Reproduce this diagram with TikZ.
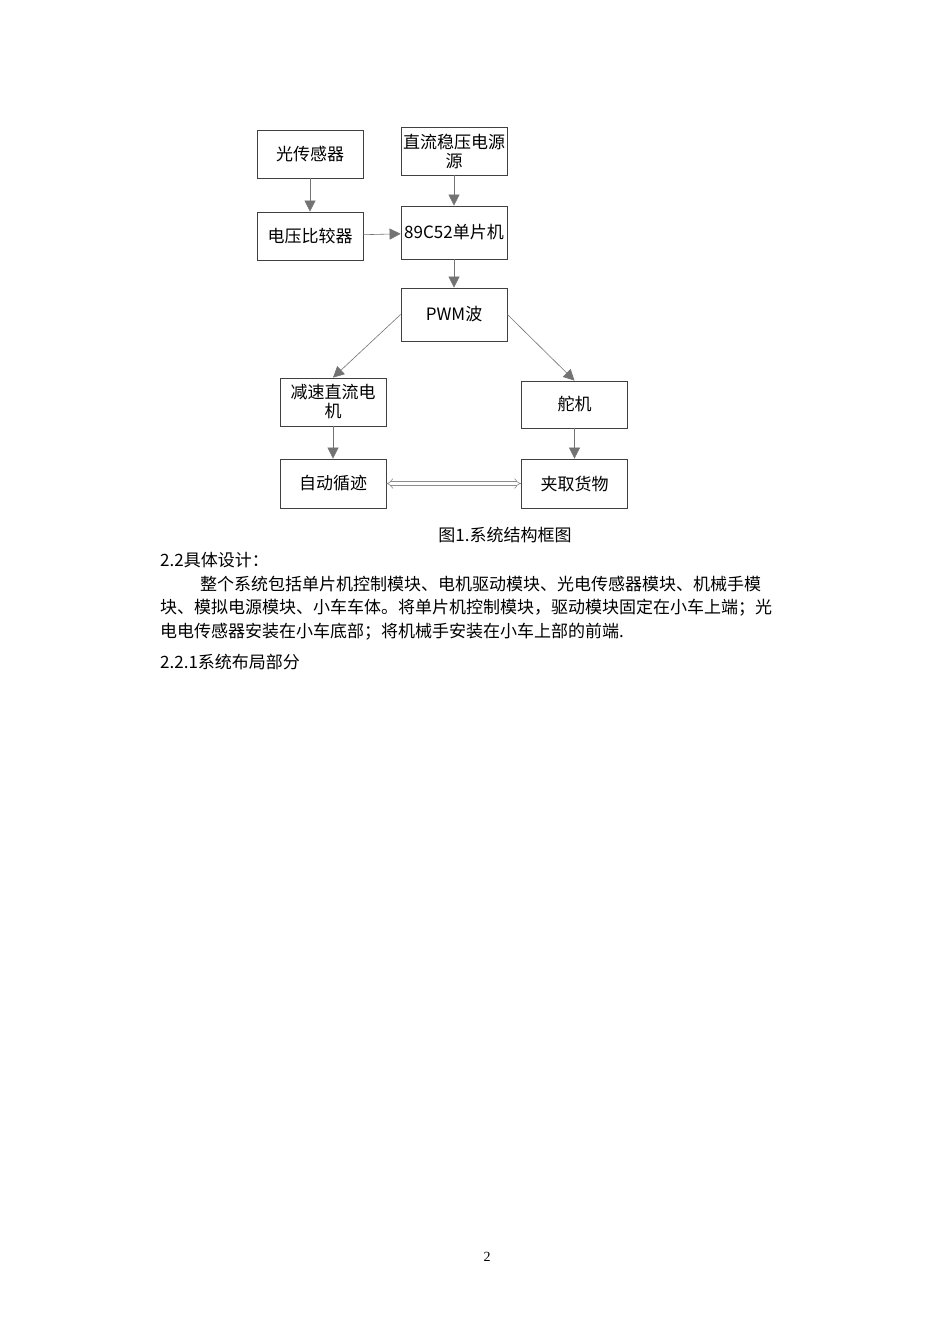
\documentclass[tikz,border=0pt]{standalone}
\usepackage{fontspec}
\setmainfont{Liberation Serif}
\newfontfamily\cjk{Noto Sans CJK SC}
\usetikzlibrary{arrows.meta}
\begin{document}
\begin{tikzpicture}[x=1pt,y=-1pt,
  blk/.style={draw=black!75,line width=0.8pt,minimum width=106pt,inner sep=0pt,align=center,font=\cjk\fontsize{17}{21}\selectfont},
  arr/.style={draw=black!55,line width=0.6pt,-{Triangle[length=11pt,width=11pt]}},
  txt/.style={anchor=west,inner sep=0pt,font=\cjk\fontsize{17}{20}\selectfont}]
\useasboundingbox[fill=white] (0,0) rectangle (950,1344);
\node[blk,minimum height=48pt] (gcq) at (310,154) {光传感器};
\node[blk,minimum height=48pt] (dy) at (454,151) {直流稳压电源\\[-2pt]源};
\node[blk,minimum height=48pt] (bjq) at (310,236) {电压比较器};
\node[blk,minimum height=53pt] (mcu) at (454,232.5) {89C52单片机};
\node[blk,minimum height=53pt] (pwm) at (454,314.5) {PWM波};
\node[blk,minimum height=48pt] (dj) at (333,402) {减速直流电\\[-2pt]机};
\node[blk,minimum height=47pt] (duo) at (574.5,404.5) {舵机};
\node[blk,minimum height=49pt] (xj) at (333,483.5) {自动循迹};
\node[blk,minimum height=49pt] (jq) at (574.5,483.5) {夹取货物};
\draw[arr] (gcq) -- (bjq);
\draw[arr] (dy) -- (mcu);
\draw[arr] (bjq) -- (mcu);
\draw[arr] (mcu) -- (pwm);
\draw[arr] (pwm.west) -- (dj.north);
\draw[arr] (pwm.east) -- (duo.north);
\draw[arr] (dj) -- (xj);
\draw[arr] (duo) -- (jq);
\draw[draw=black!45,fill=green!8!gray!25,line width=0.6pt,double distance=3pt,{Implies[]}-{Implies[]}] (xj.east) -- (jq.west);
\node[inner sep=0pt,font=\cjk\fontsize{17}{20}\selectfont] (cap) at (505,535) {图1.系统结构框图};
\node[txt] (l1) at (160,560) {2.2具体设计：};
\node[txt] (l2) at (200,584) {整个系统包括单片机控制模块、电机驱动模块、光电传感器模块、机械手模};
\node[txt] (l3) at (160,608) {块、模拟电源模块、小车车体。将单片机控制模块，驱动模块固定在小车上端；光};
\node[txt] (l4) at (160,632) {电电传感器安装在小车底部；将机械手安装在小车上部的前端.};
\node[txt] (l5) at (160,662) {2.2.1系统布局部分};
\node[inner sep=0pt,font=\fontsize{14}{16}\selectfont] (pg) at (487,1257) {2};
\end{tikzpicture}
\end{document}
